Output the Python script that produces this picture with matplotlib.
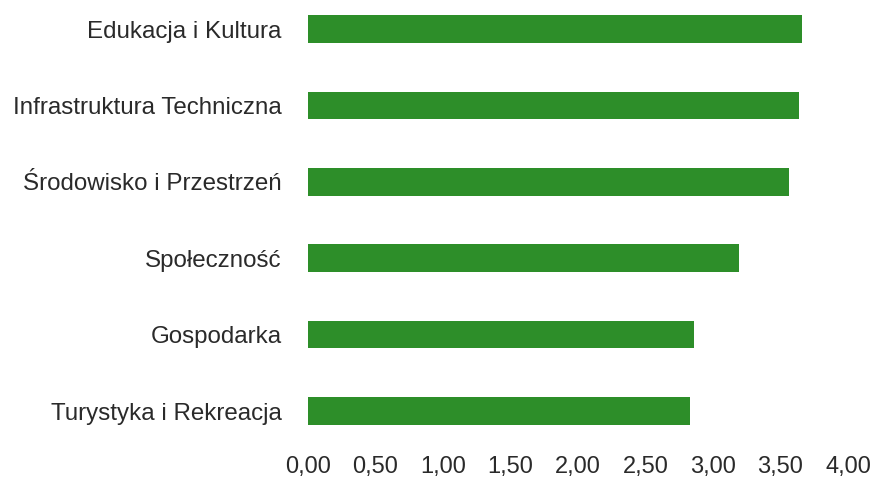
import matplotlib.pyplot as plt

plt.rcParams['font.family'] = ['Liberation Sans', 'DejaVu Sans']

# dane
categories = ['Turystyka i Rekreacja', 'Gospodarka', 'Społeczność',
              'Środowisko i Przestrzeń', 'Infrastruktura Techniczna', 'Edukacja i Kultura']
values = [2.83, 2.86, 3.19, 3.56, 3.64, 3.66]
xticks = [0, 0.5, 1, 1.5, 2, 2.5, 3, 3.5, 4]
xtick_labels = ['0,00', '0,50', '1,00', '1,50', '2,00', '2,50', '3,00', '3,50', '4,00']

bar_color = '#2d8e29'

fig = plt.figure(figsize=(8.75, 4.93), dpi=100)
ax = fig.add_axes([308 / 875, 43 / 493, 540 / 875, 450 / 493])

ax.barh(range(len(categories)), values, height=0.36, color=bar_color)
ax.set_yticks(range(len(categories)))
ax.set_yticklabels(categories, fontsize=17.4, color='#2a2a2a')
ax.set_xticks(xticks)
ax.set_xticklabels(xtick_labels, fontsize=17, color='#2a2a2a')
ax.set_xlim(0, 4)
ax.set_ylim(-0.51, 5.38)

for s in ax.spines.values():
    s.set_visible(False)
ax.tick_params(axis='both', length=0)
ax.tick_params(axis='y', pad=19)
ax.tick_params(axis='x', pad=4)

fig.savefig('out.png', dpi=100)
